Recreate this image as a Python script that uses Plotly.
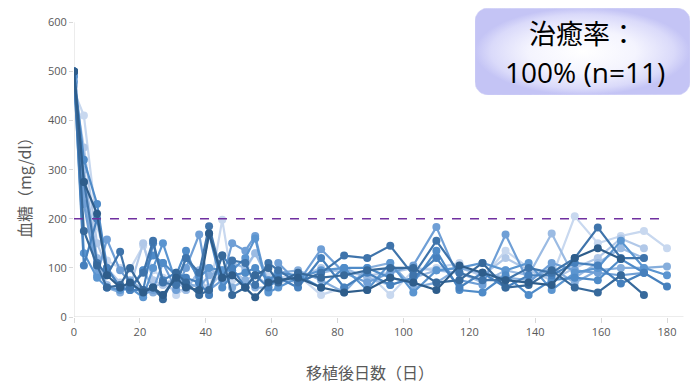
import numpy as np
import plotly.graph_objects as go

# ---------------- data ----------------
days = [0, 3, 7, 10, 14, 17, 21, 24, 27, 31, 34, 38, 41, 45, 48, 52, 55, 59, 62, 68,
        75, 82, 89, 96, 103, 110, 117, 124, 131, 138, 145, 152, 159, 166, 173, 180]

s1 = [460, 410, 185, 115, 100, 97, 145, 95, 80, 45, 60, 90, 45, 198, 75, 95, 130, 85, 80, 85,
      45, 60, 90, 45, 95, 100, 110, 80, 135, 100, 80, 205, 150, 165, 175, 140]
s2 = [470, 345, 150, 100, 70, 60, 150, 75, 65, 55, 55, 70, 60, 90, 95, 75, 85, 65, 70, 80,
      100, 90, 85, 90, 100, 95, 100, 85, 120, 95, 75, 100, 120, 160, 140, None]
s3 = [475, 300, 120, 65, 55, 55, 95, 60, 70, 75, 55, 95, 100, 80, 110, 100, 130, 75, 80, 70,
      90, 100, 80, 65, 80, 95, 90, 70, 95, 85, 170, 80, 110, 140, 120, None]
s4 = [490, 250, 100, 60, 50, 75, 55, 50, 45, 80, 70, 60, 85, 95, 60, 75, 60, 60, 90, 95,
      75, 50, 100, 110, 60, 70, 100, 90, 80, 75, 100, 70, 95, 100, 100, 103]
s5 = [480, 230, 85, 158, 95, 70, 45, 55, 110, 55, 100, 168, 55, 75, 150, 135, 165, 55, 110, 70,
      138, 90, 70, 90, 105, 183, 75, 65, 168, 70, 110, 95, 90, 85, 90, None]
s6 = [490, 130, 80, 60, 55, 60, 40, 100, 150, 70, 120, 80, 100, 95, 95, 120, 160, 50, 60, 80,
      95, 100, 55, 110, 50, 95, 100, 110, 95, 110, 55, 90, 100, 155, 100, 85]
s7 = [500, 320, 230, 100, 60, 55, 95, 125, 110, 85, 135, 70, 170, 60, 85, 90, 100, 75, 90, 85,
      60, 100, 100, 80, 70, 135, 55, 50, 85, 45, 75, 80, 75, 118, 90, None]
s8 = [500, 105, 200, 100, 60, 55, 55, 150, 75, 90, 80, 70, 45, 125, 100, 60, 85, 60, 80, 60,
      120, 60, 90, 65, 80, 120, 60, 90, 60, 85, 85, 110, 105, 68, 90, 62]
s9 = [500, 275, 110, 85, 133, 60, 90, 155, 70, 65, 120, 90, 185, 80, 115, 110, 65, 110, 95, 70,
      90, 125, 120, 145, 85, 155, 90, 75, 75, 100, 90, 120, 182, 120, 120, None]
s10 = [500, 175, 105, 60, 65, 100, 55, 60, 36, 90, 70, 45, 55, 125, 45, 60, 85, 100, 70, 90,
       80, 85, 95, 100, 100, 70, 75, 110, 60, 65, 95, 60, 50, 85, 45, None]
s11 = [500, 275, 210, 85, 60, 70, 50, 60, 45, 80, 60, 55, 170, 80, 85, 60, 40, 70, 75, 80,
       60, 50, 55, 80, 70, 55, 105, 90, 75, 70, 65, 120, 140, 118, None, None]

series = [s1, s2, s3, s4, s5, s6, s7, s8, s9, s10, s11]
colors = ["#c8d8ef", "#b1c8e8", "#9bbbe3", "#86aedc", "#6f9fd6", "#5b95d0",
          "#4f8bc8", "#4680bd", "#3f74ab", "#37699b", "#2e5d8b"]

threshold_days = [0, 180]
threshold_vals = [200, 200]

xticks = [0, 20, 40, 60, 80, 100, 120, 140, 160, 180]
yticks = [0, 100, 200, 300, 400, 500, 600]

box_line1 = "治癒率："
box_line2 = "100% (n=11)"
x_title = "移植後日数（日）"
y_title = "血糖（mg/dl）"

# ---------------- figure ----------------
fig = go.Figure()

for vals, c in zip(series, colors):
    fig.add_trace(go.Scatter(x=days, y=vals, mode="lines+markers",
                             line=dict(color=c, width=2.2),
                             marker=dict(color=c, size=8),
                             connectgaps=False, showlegend=False, hoverinfo="skip"))

fig.add_trace(go.Scatter(x=threshold_days, y=threshold_vals, mode="lines",
                         line=dict(color="#7030a0", width=1.5, dash="dash"),
                         showlegend=False, hoverinfo="skip"))

# rounded box (in its own overlay axes, 0..1 coordinates)
W, H, R = 215.0, 87.0, 13.0
rx, ry = R / W, R / H
pts_x, pts_y = [], []
corners = [(1 - rx, 1 - ry, 0, 90), (rx, 1 - ry, 90, 180), (rx, ry, 180, 270), (1 - rx, ry, 270, 360)]
for cx, cy, a0, a1 in corners:
    for a in np.linspace(np.radians(a0), np.radians(a1), 10):
        pts_x.append(cx + rx * np.cos(a))
        pts_y.append(cy + ry * np.sin(a))
pts_x.append(pts_x[0]); pts_y.append(pts_y[0])
fig.add_trace(go.Scatter(x=pts_x, y=pts_y, xaxis="x2", yaxis="y2", mode="lines",
                         fill="toself",
                         fillgradient=dict(type="radial",
                                           colorscale=[[0, "#ffffff"], [0.5, "#f4f4fe"],
                                                       [0.85, "#dadafa"], [1, "#c4c4f5"]]),
                         line=dict(width=0.6, color="#d4d4f7"),
                         showlegend=False, hoverinfo="skip"))

L, T, Rm, B = 74, 8, 2, 68
PW, PH = 692 - L - Rm, 385 - T - B
x_max = PW / (593.0 / 180.0)
y_max = PH / (294.7 / 600.0)

fig.update_layout(
    width=692, height=385,
    margin=dict(l=L, r=Rm, t=T, b=B),
    paper_bgcolor="white", plot_bgcolor="white",
    xaxis=dict(range=[0, x_max], tickvals=xticks, showgrid=False, zeroline=False,
               showline=False, ticks="outside", ticklen=5, tickcolor="#d9d9d9",
               tickfont=dict(family="Open Sans", size=11, color="#595959")),
    yaxis=dict(range=[0, y_max], tickvals=yticks, showgrid=False, zeroline=False,
               showline=False, ticks="outside", ticklen=4, tickcolor="#d9d9d9",
               tickfont=dict(family="Open Sans", size=11, color="#595959")),
    xaxis2=dict(domain=[(475 - L) / PW, 1], range=[0, 1], visible=False, anchor="y2"),
    yaxis2=dict(domain=[(385 - B - 95) / PH, (385 - B - 8) / PH], range=[0, 1], visible=False, anchor="x2"),
)

# axis lines
fig.add_shape(type="line", xref="x", yref="y", x0=0, x1=185, y0=0, y1=0,
              line=dict(color="#d9d9d9", width=1), layer="below")
fig.add_shape(type="line", xref="x", yref="y", x0=0, x1=0, y0=0, y1=600,
              line=dict(color="#d9d9d9", width=1), layer="below")

fig.add_annotation(text=box_line1, xref="x2", yref="y2", x=0.5, y=(95 - 32) / 87.0,
                   showarrow=False, xanchor="center", yanchor="middle",
                   font=dict(family="Noto Sans CJK JP", size=27, color="#000000"))
fig.add_annotation(text=box_line2, xref="x2", yref="y2", x=0.51, y=(95 - 72) / 87.0,
                   showarrow=False, xanchor="center", yanchor="middle",
                   font=dict(family="Open Sans", size=28, color="#000000"))

fig.add_annotation(text=x_title, xref="paper", yref="paper",
                   x=(370 - L) / PW, y=(385 - B - 372) / PH, showarrow=False,
                   xanchor="center", yanchor="middle",
                   font=dict(family="Noto Sans CJK JP", size=16, color="#595959"))
fig.add_annotation(text=y_title, xref="paper", yref="paper", textangle=-90,
                   x=(24 - L) / PW, y=(385 - B - 184) / PH, showarrow=False,
                   xanchor="center", yanchor="middle",
                   font=dict(family="Noto Sans CJK JP", size=16, color="#595959"))

fig.write_html("out.html")
